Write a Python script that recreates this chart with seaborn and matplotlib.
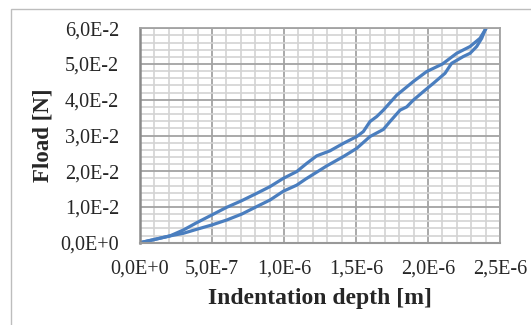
import matplotlib
matplotlib.use("Agg")
import matplotlib.pyplot as plt
from matplotlib.ticker import MultipleLocator, FixedLocator, FixedFormatter
from matplotlib.patches import Rectangle
import seaborn as sns
import pandas as pd

# Data (depth in 1E-6 m, load in 1E-2 N)
upper_depth = [0, 0.10, 0.208, 0.301, 0.394, 0.498, 0.602, 0.706, 0.810, 0.903, 0.995,
               1.088, 1.158, 1.227, 1.319, 1.412, 1.505, 1.551, 1.597, 1.644, 1.690,
               1.783, 1.898, 1.991, 2.100, 2.199, 2.292, 2.361, 2.396, 2.403]
upper_load = [0, 0.09, 0.19, 0.355, 0.56, 0.775, 0.99, 1.175, 1.38, 1.57, 1.80,
              1.99, 2.22, 2.43, 2.57, 2.78, 2.97, 3.11, 3.39, 3.53, 3.71,
              4.13, 4.51, 4.79, 5.00, 5.30, 5.49, 5.72, 5.95, 6.0]
lower_depth = [0, 0.10, 0.208, 0.301, 0.394, 0.498, 0.602, 0.706, 0.810, 0.903, 0.995,
               1.088, 1.15, 1.297, 1.412, 1.505, 1.597, 1.690, 1.736, 1.806, 1.852,
               1.898, 1.968, 2.037, 2.118, 2.164, 2.245, 2.292, 2.338, 2.373, 2.396, 2.403]
lower_load = [0, 0.09, 0.19, 0.263, 0.375, 0.495, 0.635, 0.80, 1.01, 1.195, 1.44,
              1.61, 1.78, 2.15, 2.41, 2.64, 2.97, 3.17, 3.39, 3.71, 3.80,
              3.99, 4.23, 4.46, 4.74, 5.02, 5.21, 5.30, 5.49, 5.72, 5.95, 6.0]

x_ticks = [0, 5e-7, 1e-6, 1.5e-6, 2e-6, 2.5e-6]
x_tick_labels = ["0,0E+0", "5,0E-7", "1,0E-6", "1,5E-6", "2,0E-6", "2,5E-6"]
y_ticks = [0, 1e-2, 2e-2, 3e-2, 4e-2, 5e-2, 6e-2]
y_tick_labels = ["0,0E+0", "1,0E-2", "2,0E-2", "3,0E-2", "4,0E-2", "5,0E-2", "6,0E-2"]

df_upper = pd.DataFrame({"depth": [v * 1e-6 for v in upper_depth],
                         "load": [v * 1e-2 for v in upper_load]})
df_lower = pd.DataFrame({"depth": [v * 1e-6 for v in lower_depth],
                         "load": [v * 1e-2 for v in lower_load]})

sns.set_style("white")
plt.rcParams['font.family'] = ['Liberation Serif', 'DejaVu Serif']

W, H = 531, 325
fig = plt.figure(figsize=(W / 100, H / 100), dpi=100)
fig.patch.set_facecolor("white")

# outer chart frame
fig.add_artist(Rectangle((11 / W, -0.1), 1.2, (H - 9) / H + 0.1, transform=fig.transFigure,
                         fill=False, edgecolor="#bdbdbd", linewidth=1.0))

left, right, top, bottom = 140, 500, 28.3, 242.7
ax = fig.add_axes([left / W, 1 - bottom / H, (right - left) / W, (bottom - top) / H])

line_color = "#4a7ebf"
sns.lineplot(data=df_upper, x="depth", y="load", sort=False, estimator=None,
             color=line_color, linewidth=2.3, ax=ax)
sns.lineplot(data=df_lower, x="depth", y="load", sort=False, estimator=None,
             color=line_color, linewidth=2.3, ax=ax)

ax.set_xlim(0, 2.5e-6)
ax.set_ylim(0, 6e-2)

ax.xaxis.set_major_locator(FixedLocator(x_ticks))
ax.xaxis.set_major_formatter(FixedFormatter(x_tick_labels))
ax.yaxis.set_major_locator(FixedLocator(y_ticks))
ax.yaxis.set_major_formatter(FixedFormatter(y_tick_labels))
ax.xaxis.set_minor_locator(MultipleLocator(1e-7))
ax.yaxis.set_minor_locator(MultipleLocator(0.2e-2))

ax.grid(which="minor", color="#d3d3d3", linewidth=1.2)
ax.grid(which="major", color="#a3a3a3", linewidth=1.3)
ax.set_axisbelow(True)

ax.tick_params(axis="both", which="both", length=0)
ax.tick_params(axis="x", labelsize=14.5, pad=12)
ax.tick_params(axis="y", labelsize=14.5, pad=15)

for s in ["top", "right"]:
    ax.spines[s].set_color("#a3a3a3")
    ax.spines[s].set_linewidth(1.3)
ax.spines["left"].set_color("#8a8a8a")
ax.spines["left"].set_linewidth(1.8)
ax.spines["bottom"].set_color("#999999")
ax.spines["bottom"].set_linewidth(1.5)

ax.set_xlabel("Indentation depth [m]", fontsize=17, fontweight="bold", labelpad=7)
ax.set_ylabel("Fload [N]", fontsize=16.5, fontweight="bold", labelpad=5)

fig.savefig("out.png", dpi=100, facecolor="white")
